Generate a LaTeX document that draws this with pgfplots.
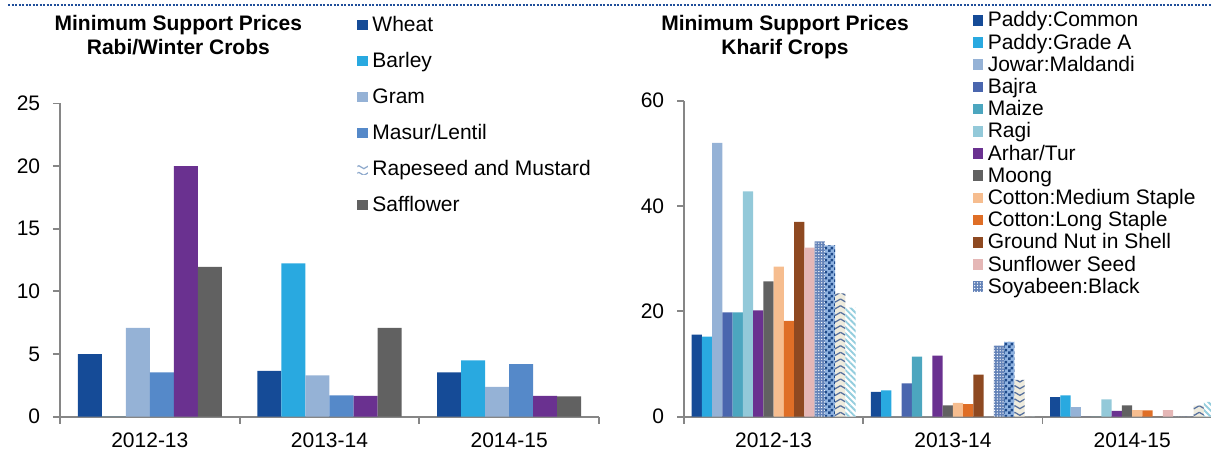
\documentclass[border=0pt]{standalone}
\usepackage{fontspec}
\setmainfont{Liberation Sans}
\usepackage{pgfplots}
\pgfplotsset{compat=1.18}
\usepackage{pgfplotstable}
\usetikzlibrary{patterns,patterns.meta}

\definecolor{axisgray}{HTML}{868686}
\definecolor{cA}{HTML}{154B97}
\definecolor{cB}{HTML}{29A9E0}
\definecolor{cC}{HTML}{95B2D6}
\definecolor{cMasur}{HTML}{5589C9}
\definecolor{cBajra}{HTML}{4A66AE}
\definecolor{cMaize}{HTML}{4CA6BF}
\definecolor{cRagi}{HTML}{93C9D9}
\definecolor{cPurple}{HTML}{6A3190}
\definecolor{cGray}{HTML}{616161}
\definecolor{cCotM}{HTML}{F6BD8F}
\definecolor{cCotL}{HTML}{DF6E26}
\definecolor{cGnut}{HTML}{8E4921}
\definecolor{cSun}{HTML}{E5B7B6}
\definecolor{cSoyBg}{HTML}{6483B8}
\definecolor{cChkLight}{HTML}{8EB2E0}
\definecolor{cChkDark}{HTML}{1F4A8A}
\definecolor{cChevBg}{HTML}{EEEBDD}
\definecolor{cChev}{HTML}{56709E}
\definecolor{cStripe}{HTML}{93CDDD}
\definecolor{cDotLine}{HTML}{1F4E9A}
\definecolor{cRapeIcon}{HTML}{8EA9CC}

\pgfdeclarepatternformonly{mychecker}{\pgfpointorigin}{\pgfpoint{3.6pt}{3.6pt}}{\pgfpoint{3.6pt}{3.6pt}}{%
  \pgfpathrectangle{\pgfpointorigin}{\pgfpoint{1.8pt}{1.8pt}}%
  \pgfpathrectangle{\pgfpoint{1.8pt}{1.8pt}}{\pgfpoint{1.8pt}{1.8pt}}%
  \pgfusepath{fill}}
\pgfdeclarepatternformonly{chevron}{\pgfpoint{-0.5pt}{-0.5pt}}{\pgfpoint{6.65pt}{4.5pt}}{\pgfpoint{6.15pt}{4pt}}{%
  \pgfsetlinewidth{0.75pt}%
  \pgfpathmoveto{\pgfpoint{0pt}{2.6pt}}%
  \pgfpathlineto{\pgfpoint{3.075pt}{0.8pt}}%
  \pgfpathlineto{\pgfpoint{6.15pt}{2.6pt}}%
  \pgfusepath{stroke}}

\newcommand\fs{\fontsize{12.6}{15}\selectfont}
\newcommand\fsb{\fontsize{12.6}{15}\selectfont\bfseries}

\pgfplotstableread{
x wheat barley gram masur rape saff
0 5.00 0     7.08 3.54 20.00 11.95
1 3.65 12.24 3.30 1.70 1.65  7.08
2 3.54 4.50  2.37 4.20 1.65  1.62
}\rabi

\pgfplotstableread{
x pc pa jw bj mz rg ar mg cm cl gn sf sb sy sz st
0 15.6 15.2 52.0 19.8 19.8 42.8 20.2 25.7 28.5 18.2 37.0 32.1 33.3 32.5 23.4 20.7
1 4.7  5.0  0    6.3  11.4 0    11.6 2.15 2.6  2.4  8.0  0    13.5 14.2 7.0  0
2 3.7  4.05 1.8  0    0    3.3  1.1  2.15 1.25 1.2  0    1.25 0    0    2.1  2.8
}\kharif

\pgfplotsset{
  msp/.style={
    scale only axis, anchor=south west,
    ybar,
    axis lines*=left,
    axis line style={draw=axisgray, line width=1.1pt},
    tick style={draw=axisgray, line width=1.1pt},
    tick align=outside,
    major tick length=4.2pt,
    ymin=0,
    xmin=-0.5, xmax=2.5,
    xtick={-0.5,0.5,1.5,2.5}, xticklabels={,,,},
    extra x ticks={0,1,2},
    extra x tick labels={2012-13,2013-14,2014-15},
    extra x tick style={major tick length=0pt},
    xticklabel style={inner sep=0pt, anchor=north, yshift=-9.8pt},
    yticklabel style={inner sep=0pt, anchor=east, xshift=-7.5pt},
    every tick label/.append style={font=\fs},
    /pgf/number format/assume math mode=true,
    legend cell align=left,
    legend image code/.code={\path[##1, draw=none] (0pt,-2.2pt) rectangle (6.3pt,4.1pt);},
  },
}

\begin{document}
\begin{tikzpicture}
\useasboundingbox (0,0) rectangle (726.6pt,270pt);
\draw[cDotLine, line width=1.2pt, dash pattern=on 1.2pt off 0.9pt] (4.8pt,267pt) -- (726.6pt,267pt);

\begin{axis}[msp,
  at={(36pt,20pt)}, width=323.4pt, height=187.9pt,
  bar width=0.1336,
  ymax=25, ytick={0,5,10,15,20,25},
  legend style={draw=none, fill=none, inner sep=0pt, at={(0.551,1.278)}, anchor=north west,
    font=\fs, row sep=9.6pt,
    nodes={inner sep=0pt, text height=9pt, text depth=3pt},
    /tikz/every odd column/.append style={column sep=2.8pt}},
]
\addplot[fill=cA, draw=none, bar shift=-0.334] table[x=x,y=wheat]{\rabi};
\addplot[fill=cB, draw=none, bar shift=-0.2004] table[x=x,y=barley]{\rabi};
\addplot[fill=cC, draw=none, bar shift=-0.0668] table[x=x,y=gram]{\rabi};
\addplot[fill=cMasur, draw=none, bar shift=0.0668] table[x=x,y=masur]{\rabi};
\addplot[fill=cPurple, draw=none, bar shift=0.2004,
  legend image code/.code={\path[fill=white, postaction={pattern=chevron, pattern color=cRapeIcon}] (0pt,-2.2pt) rectangle (6.3pt,4.1pt);}] table[x=x,y=rape]{\rabi};
\addplot[fill=cGray, draw=none, bar shift=0.334] table[x=x,y=saff]{\rabi};
\legend{Wheat,Barley,Gram,Masur/Lentil,Rapeseed and Mustard,Safflower}
\end{axis}

\begin{axis}[msp,
  at={(410.4pt,20pt)}, width=322.7pt, height=189.6pt,
  bar width=0.05717,
  ymax=60, ytick={0,20,40,60},
  legend style={draw=none, fill=none, inner sep=0pt, at={(0.536,1.282)}, anchor=north west,
    font=\fs, row sep=1.32pt,
    nodes={inner sep=0pt, text height=9pt, text depth=3pt},
    /tikz/every odd column/.append style={column sep=2.8pt}},
]
\addplot[fill=cA, draw=none, bar shift=-0.4288] table[x=x,y=pc]{\kharif};
\addplot[fill=cB, draw=none, bar shift=-0.3716] table[x=x,y=pa]{\kharif};
\addplot[fill=cC, draw=none, bar shift=-0.3144] table[x=x,y=jw]{\kharif};
\addplot[fill=cBajra, draw=none, bar shift=-0.2573] table[x=x,y=bj]{\kharif};
\addplot[fill=cMaize, draw=none, bar shift=-0.2001] table[x=x,y=mz]{\kharif};
\addplot[fill=cRagi, draw=none, bar shift=-0.1429] table[x=x,y=rg]{\kharif};
\addplot[fill=cPurple, draw=none, bar shift=-0.0858] table[x=x,y=ar]{\kharif};
\addplot[fill=cGray, draw=none, bar shift=-0.0286] table[x=x,y=mg]{\kharif};
\addplot[fill=cCotM, draw=none, bar shift=0.0286] table[x=x,y=cm]{\kharif};
\addplot[fill=cCotL, draw=none, bar shift=0.0858] table[x=x,y=cl]{\kharif};
\addplot[fill=cGnut, draw=none, bar shift=0.1429] table[x=x,y=gn]{\kharif};
\addplot[fill=cSun, draw=none, bar shift=0.2001] table[x=x,y=sf]{\kharif};
\addplot[fill=cSoyBg, draw=none, postaction={pattern={Dots[distance=1.7pt, radius=0.42pt]}, pattern color=white}, bar shift=0.2573] table[x=x,y=sb]{\kharif};
\addplot[fill=cChkLight, draw=none, postaction={pattern=mychecker, pattern color=cChkDark}, bar shift=0.3144] table[x=x,y=sy]{\kharif};
\addplot[fill=cChevBg, draw=none, postaction={pattern=chevron, pattern color=cChev}, bar shift=0.3716] table[x=x,y=sz]{\kharif};
\addplot[fill=white, draw=none, postaction={pattern={Lines[angle=-45, distance=2.6pt, line width=1.1pt]}, pattern color=cStripe}, bar shift=0.4288] table[x=x,y=st]{\kharif};
\legend{Paddy:Common,Paddy:Grade A,Jowar:Maldandi,Bajra,Maize,Ragi,Arhar/Tur,Moong,Cotton:Medium Staple,Cotton:Long Staple,Ground Nut in Shell,Sunflower Seed,Soyabeen:Black}
\end{axis}

\node[anchor=base, font=\fsb] at (107pt,251.6pt) {Minimum Support Prices};
\node[anchor=base, font=\fsb] at (107pt,237.4pt) {Rabi/Winter Crobs};
\node[anchor=base, font=\fsb] at (471pt,251.6pt) {Minimum Support Prices};
\node[anchor=base, font=\fsb] at (471pt,237.4pt) {Kharif Crops};
\end{tikzpicture}
\end{document}
